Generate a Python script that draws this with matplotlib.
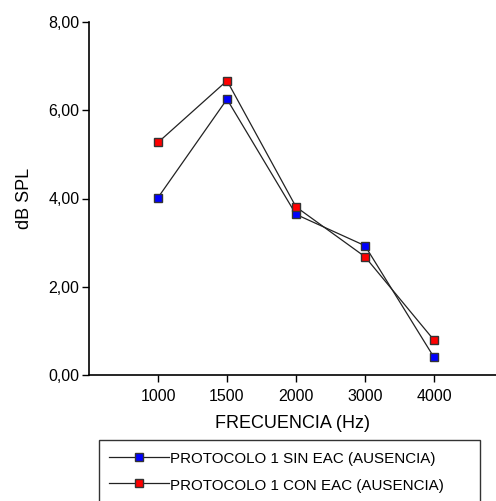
import matplotlib
matplotlib.use("Agg")
import matplotlib.pyplot as plt
from matplotlib.ticker import FuncFormatter

plt.rcParams['font.family'] = ['Liberation Sans', 'DejaVu Sans']

# frecuencias y niveles medidos (dB SPL)
freqs = ['1000', '1500', '2000', '3000', '4000']
sin_eac = [4.02, 6.25, 3.64, 2.93, 0.40]
con_eac = [5.27, 6.67, 3.81, 2.68, 0.79]

W, H = 496, 501
fig = plt.figure(figsize=(W / 100, H / 100), dpi=100)
ax = fig.add_axes([89 / W, 1 - 375 / H, 407 / W, 353 / H])

pos = list(range(1, len(freqs) + 1))
ax.plot(pos, sin_eac, color='#222222', lw=0.9, marker='s', ms=6,
        mfc='#0000ff', mec='#333333', mew=1.0,
        label='PROTOCOLO 1 SIN EAC (AUSENCIA)')
ax.plot(pos, con_eac, color='#222222', lw=0.9, marker='s', ms=6,
        mfc='#ff0000', mec='#333333', mew=1.0,
        label='PROTOCOLO 1 CON EAC (AUSENCIA)')

ax.set_xlim(0, 407 / 69)
ax.set_ylim(0, 8)
ax.set_xticks(pos)
ax.set_xticklabels(freqs)
ax.set_yticks([0, 2, 4, 6, 8])
ax.yaxis.set_major_formatter(FuncFormatter(lambda v, p: f'{v:.2f}'.replace('.', ',')))
ax.tick_params(labelsize=11.5, length=5, width=1, color='black')
ax.tick_params(axis='y', pad=2)
ax.tick_params(axis='x', pad=5)

for side in ('top', 'right'):
    ax.spines[side].set_visible(False)
for side in ('left', 'bottom'):
    ax.spines[side].set_linewidth(1.2)

ax.set_xlabel('FRECUENCIA (Hz)', fontsize=13, labelpad=8)
ax.set_ylabel('dB SPL', fontsize=13, labelpad=11)

leg = fig.legend(loc='upper left', bbox_to_anchor=(99 / W, 1 - 440 / H, 381 / W, 0.0),
                 mode='expand', fontsize=10.9, frameon=True, fancybox=False,
                 edgecolor='black', handlelength=4.0, handleheight=1.3,
                 handletextpad=0.05, borderpad=0.65, labelspacing=0.65,
                 borderaxespad=0)
leg.get_frame().set_linewidth(1.0)

fig.savefig('out.png', dpi=100, facecolor='white')
